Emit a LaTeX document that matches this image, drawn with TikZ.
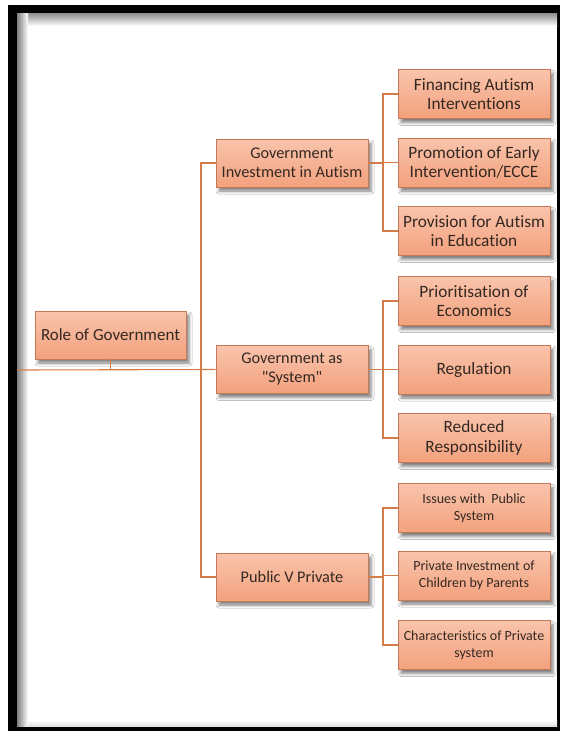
\documentclass[tikz,border=0pt]{standalone}
\usepackage{fontspec}
\setmainfont{Carlito}[Ligatures={NoCommon,TeXOff}]
\usetikzlibrary{shadows.blur}
\definecolor{boxtop}{RGB}{249,196,172}
\definecolor{boxbot}{RGB}{243,161,125}
\definecolor{boxedge}{RGB}{196,120,88}
\definecolor{linkcol}{RGB}{212,124,72}
\definecolor{inkcol}{RGB}{52,40,34}
\tikzset{
  box/.style={rectangle, draw=boxedge, line width=0.8pt, top color=boxtop, bottom color=boxbot,
    text=inkcol, align=center, inner sep=2pt,
    blur shadow={shadow xshift=3pt, shadow yshift=-4pt, shadow blur radius=3pt, shadow opacity=50}},
  rootbox/.style={box, minimum width=151pt, minimum height=48pt, font=\fontsize{17}{19.5}\selectfont},
  midbox/.style={box, minimum width=152pt, minimum height=48pt, font=\fontsize{16.3}{19}\selectfont},
  leafbox/.style={box, minimum width=152pt, minimum height=49pt, font=\fontsize{17.3}{19.5}\selectfont},
  smallleaf/.style={box, minimum width=152pt, minimum height=49pt, font=\fontsize{14}{17}\selectfont},
  link/.style={draw=linkcol, line width=1.1pt}
}
\begin{document}
\begin{tikzpicture}[x=1pt,y=-1pt]
\useasboundingbox (0,0) rectangle (560,731);
% page frame with inner shading
\fill[black] (8,5) rectangle (560,731);
\fill[white] (17,13) rectangle (557,726);
\shade[top color=black!45, bottom color=white] (17,13) rectangle (557,26);
\shade[left color=black!50, right color=white] (17,13) rectangle (28,726);
\shade[top color=white, bottom color=black!12] (28,720) rectangle (557,726);

% nodes
\node[rootbox] (root) at (110.5,335) {Role of Government};

\node[midbox] (inv) at (292,163) {Government\\Investment in Autism};
\node[midbox] (sys) at (292,369.5) {Government as\\"System"};
\node[midbox] (pvp) at (292,577) {Public V Private};

\node[leafbox] (fin)  at (474,94)    {Financing Autism\\Interventions};
\node[leafbox] (prom) at (474,162.5) {Promotion of Early\\Intervention/ECCE};
\node[leafbox] (prov) at (474,231)   {Provision for Autism\\in Education};

\node[leafbox] (prio) at (474,301)   {Prioritisation of\\Economics};
\node[leafbox] (reg)  at (474,369.5) {Regulation};
\node[leafbox] (red)  at (474,438)   {Reduced\\Responsibility};

\node[smallleaf] (iss)  at (474,508)   {Issues with\ \ Public\\System};
\node[smallleaf] (priv) at (474,575.5) {Private Investment of\\Children by Parents};
\node[smallleaf] (char) at (474,645)   {Characteristics of Private\\system};

% trunk positions
\coordinate (lineL) at (17,370);
\coordinate (trunkA) at (201,0);
\coordinate (trunkB) at (383,0);

% connectors
\draw[link] (root.south) -- (root.south |- lineL);
\draw[link] (lineL) -- (sys.west);
\draw[link] (inv.west) -- (inv.west -| trunkA) -- (pvp.west -| trunkA) -- (pvp.west);

\draw[link] (inv.east) -- (inv.east -| trunkB);
\draw[link] (fin.west) -- (fin.west -| trunkB) -- (prov.west -| trunkB) -- (prov.west);
\draw[link] (prom.west -| trunkB) -- (prom.west);

\draw[link] (sys.east) -- (sys.east -| trunkB);
\draw[link] (prio.west) -- (prio.west -| trunkB) -- (red.west -| trunkB) -- (red.west);
\draw[link] (reg.west -| trunkB) -- (reg.west);

\draw[link] (pvp.east) -- (pvp.east -| trunkB);
\draw[link] (iss.west) -- (iss.west -| trunkB) -- (char.west -| trunkB) -- (char.west);
\draw[link] (priv.west -| trunkB) -- (priv.west);
\end{tikzpicture}
\end{document}
